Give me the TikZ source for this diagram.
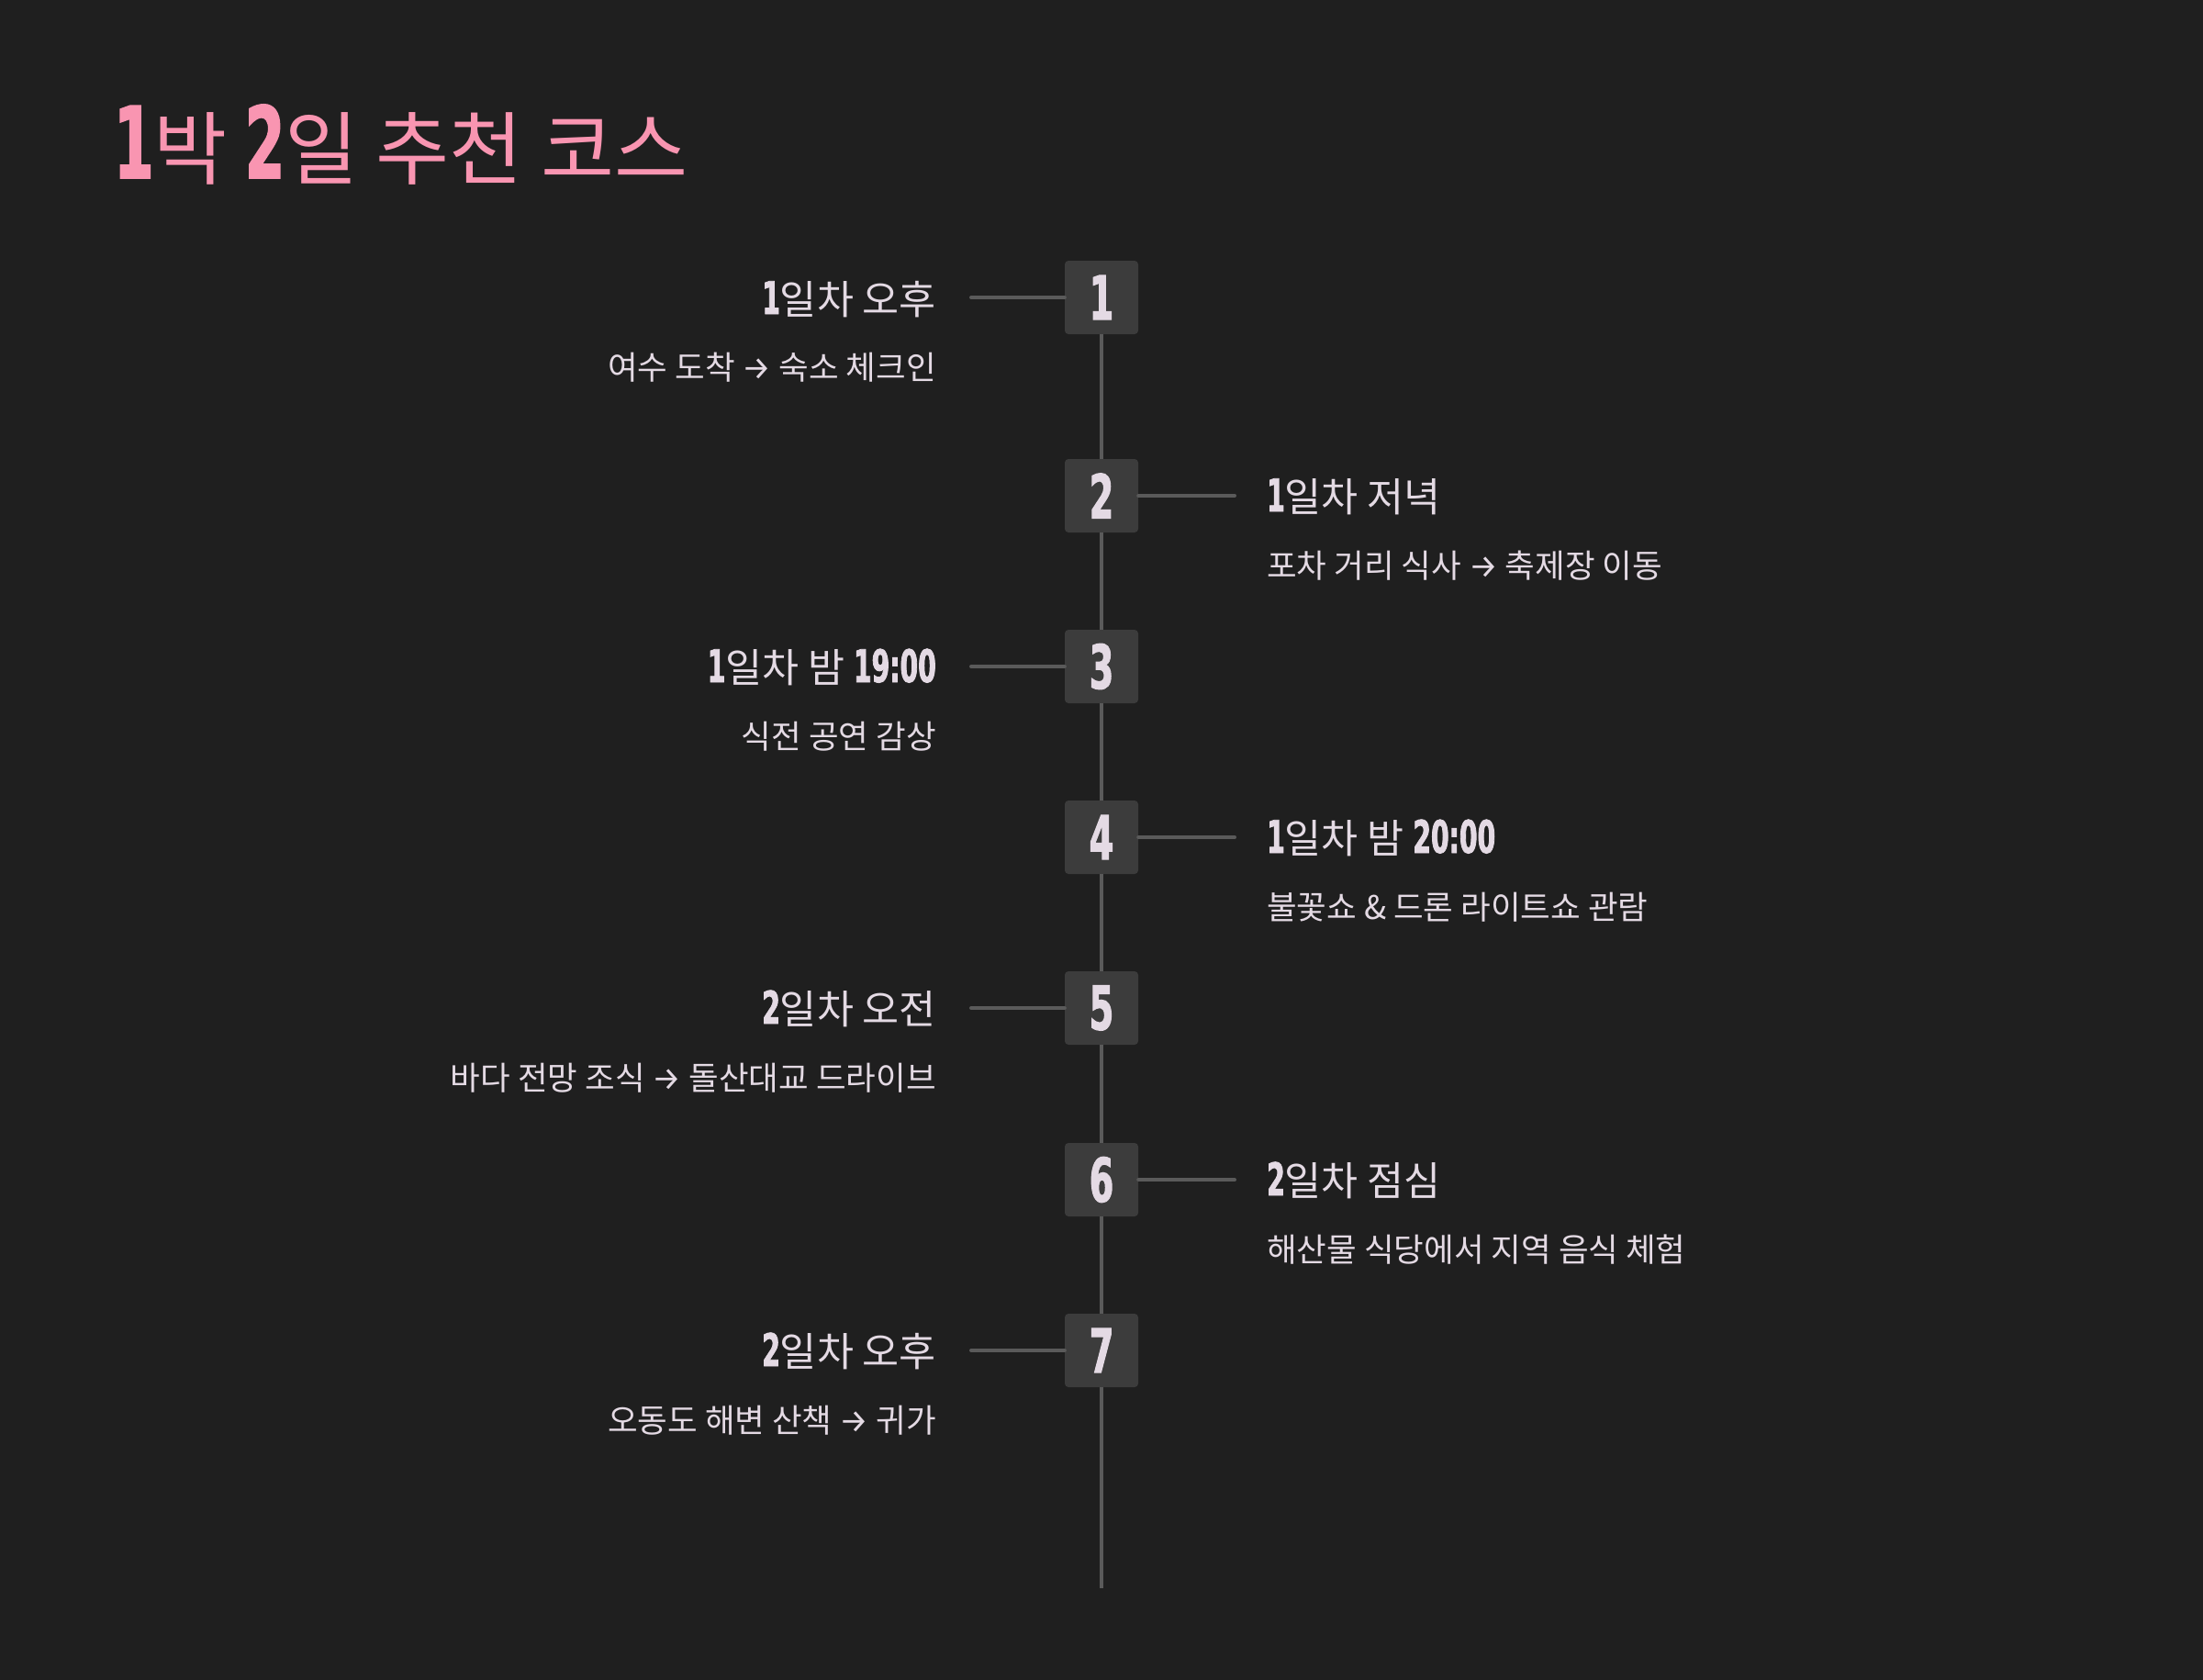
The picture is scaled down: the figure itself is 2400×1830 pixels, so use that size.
\documentclass[tikz,border=0pt]{standalone}
\usepackage{fontspec}
\setmainfont{Noto Sans CJK KR}
\newfontfamily\numfont[FakeStretch=0.64,FakeBold=1.6]{DejaVu Sans Condensed Bold}
\newfontfamily\arrfont{Fira Sans}
\definecolor{bgc}{HTML}{1F1F1F}
\definecolor{boxc}{HTML}{3C3C3C}
\definecolor{linec}{HTML}{5A5A5A}
\definecolor{txtc}{HTML}{E4DAE4}
\definecolor{pinkc}{HTML}{F995B1}
\newcommand{\hd}[1]{{\numfont\fontsize{49}{56}\selectfont #1}}
\newcommand{\tn}[1]{{\numfont\fontsize{108}{120}\selectfont #1}}
\newcommand{\ar}{{\arrfont →}}
\tikzset{
  stepbox/.style={fill=boxc, rounded corners=4pt, minimum width=80pt, minimum height=80pt, inner sep=0pt, text=txtc, font=\numfont\fontsize{66}{70}\selectfont},
  conn/.style={draw=linec, line width=4pt, line cap=round},
  vline/.style={draw=linec, line width=4pt},
  headl/.style={inner sep=0pt, text=txtc, font=\fontsize{43.5}{50}\selectfont},
  subl/.style={inner sep=0pt, text=txtc, font=\fontsize{35.5}{42}\selectfont},
  titlel/.style={inner sep=0pt, text=pinkc, font=\fontsize{87}{104}\selectfont}
}
\begin{document}
\begin{tikzpicture}[x=1pt,y=-1pt]
\fill[bgc] (0,0) rectangle (2400,1830);
\useasboundingbox (0,0) rectangle (2400,1830);
\node[titlel, anchor=base west] (title) at (124,194) {\tn{1}박 \tn{2}일 추천 코스};
% boxes
\node[stepbox] (b1) at (1200,324) {1};
\node[stepbox] (b2) at (1200,540) {2};
\node[stepbox] (b3) at (1200,726) {3};
\node[stepbox] (b4) at (1200,912) {4};
\node[stepbox] (b5) at (1200,1098) {5};
\node[stepbox] (b6) at (1200,1285) {6};
\node[stepbox] (b7) at (1200,1471) {7};
\coordinate (lineend) at (1200,1730);
\draw[vline] (b1.south) -- (b2.north);
\draw[vline] (b2.south) -- (b3.north);
\draw[vline] (b3.south) -- (b4.north);
\draw[vline] (b4.south) -- (b5.north);
\draw[vline] (b5.south) -- (b6.north);
\draw[vline] (b6.south) -- (b7.north);
\draw[vline] (b7.south) -- (lineend);
% connector ends
\coordinate (c1) at (1058,324);
\coordinate (c2) at (1345,540);
\coordinate (c3) at (1058,726);
\coordinate (c4) at (1345,912);
\coordinate (c5) at (1058,1098);
\coordinate (c6) at (1345,1285);
\coordinate (c7) at (1058,1471);
\draw[conn] (c1) -- (b1.west);
\draw[conn] (b2.east) -- (c2);
\draw[conn] (c3) -- (b3.west);
\draw[conn] (b4.east) -- (c4);
\draw[conn] (c5) -- (b5.west);
\draw[conn] (b6.east) -- (c6);
\draw[conn] (c7) -- (b7.west);
% labels
\node[headl, anchor=base east] (h1) at (1020,342) {\hd{1}일차 오후};
\node[subl, anchor=base east] (s1) at (1020,413) {여수 도착 \ar{} 숙소 체크인};
\node[headl, anchor=base west] (h2) at (1380,557) {\hd{1}일차 저녁};
\node[subl, anchor=base west] (s2) at (1380,629) {포차 거리 식사 \ar{} 축제장 이동};
\node[headl, anchor=base east] (h3) at (1020,743) {\hd{1}일차 밤 \hd{19:00}};
\node[subl, anchor=base east] (s3) at (1020,815) {식전 공연 감상};
\node[headl, anchor=base west] (h4) at (1380,929) {\hd{1}일차 밤 \hd{20:00}};
\node[subl, anchor=base west] (s4) at (1380,1001) {불꽃쇼 \& 드론 라이트쇼 관람};
\node[headl, anchor=base east] (h5) at (1020,1115) {\hd{2}일차 오전};
\node[subl, anchor=base east] (s5) at (1020,1187) {바다 전망 조식 \ar{} 돌산대교 드라이브};
\node[headl, anchor=base west] (h6) at (1380,1302) {\hd{2}일차 점심};
\node[subl, anchor=base west] (s6) at (1380,1374) {해산물 식당에서 지역 음식 체험};
\node[headl, anchor=base east] (h7) at (1020,1488) {\hd{2}일차 오후};
\node[subl, anchor=base east] (s7) at (1020,1560) {오동도 해변 산책 \ar{} 귀가};
\end{tikzpicture}
\end{document}
